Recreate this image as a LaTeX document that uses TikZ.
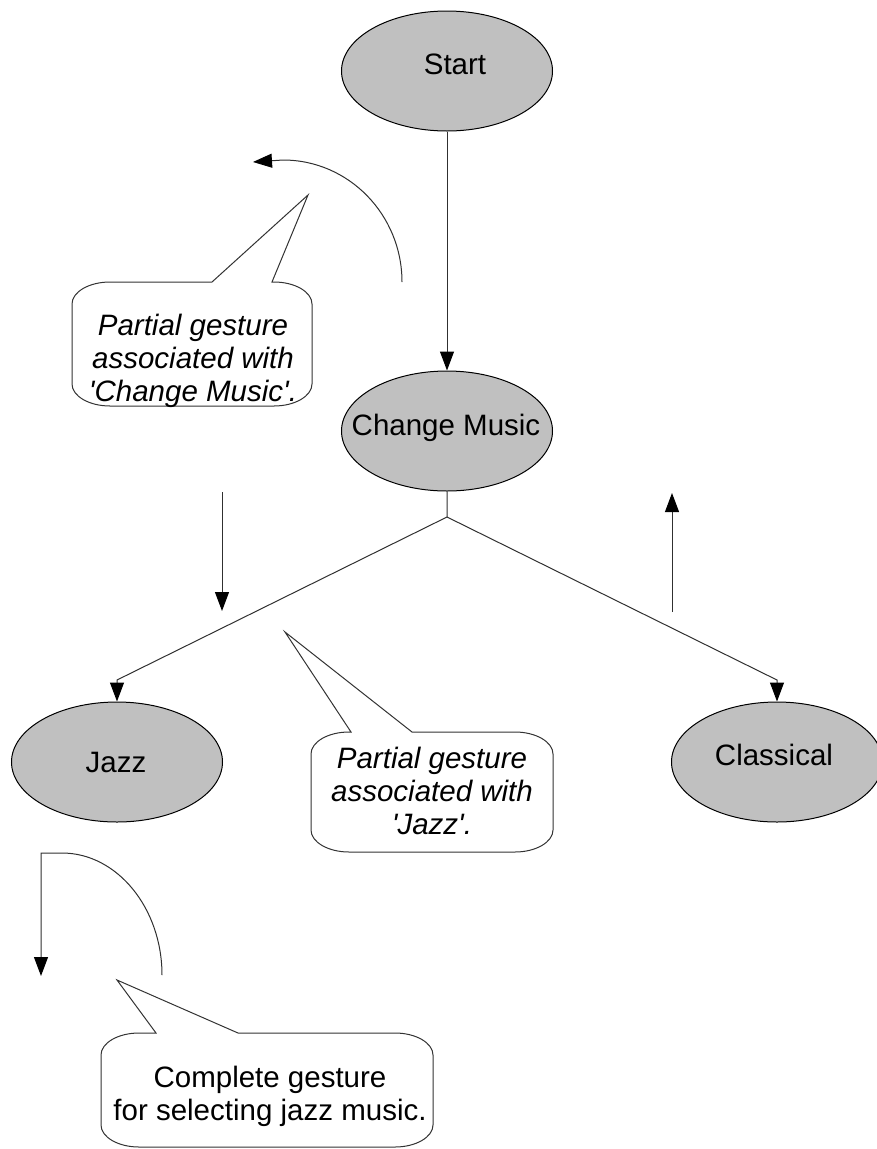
\documentclass[tikz,border=0pt]{standalone}
\usepackage{fontspec}
\setmainfont{Liberation Sans}
\usetikzlibrary{shapes.geometric,arrows.meta}
\definecolor{nodegray}{HTML}{C0C0C0}
\definecolor{linegray}{HTML}{303030}
\newcommand\mycallout[8]{%
  \draw[calloutline] ({#1},{#2+22}) .. controls ({#1},{#2+10}) and ({#1+17},{#2}) .. ({#1+38},{#2})
    -- ({#5},{#2}) -- ({#7},{#8}) -- ({#6},{#2}) -- ({#3-38},{#2})
    .. controls ({#3-17},{#2}) and ({#3},{#2+10}) .. ({#3},{#2+22})
    -- ({#3},{#4-22}) .. controls ({#3},{#4-10}) and ({#3-17},{#4}) .. ({#3-38},{#4})
    -- ({#1+38},{#4}) .. controls ({#1+17},{#4}) and ({#1},{#4-10}) .. ({#1},{#4-22}) -- cycle;}
\begin{document}
\begin{tikzpicture}[x=1pt,y=-1pt,
  state/.style={ellipse,draw=black,line width=1pt,fill=nodegray,minimum width=211pt,minimum height=120pt,inner sep=0pt},
  lbl/.style={anchor=base,inner sep=0pt,font=\fontsize{29.5}{33}\selectfont},
  note/.style={anchor=base,inner sep=0pt,align=center,font=\fontsize{29.5}{33}\selectfont},
  inote/.style={note,font=\fontsize{29.5}{33}\selectfont\itshape},
  calloutline/.style={draw=black!80,line width=1pt,fill=white},
  conn/.style={draw=linegray,line width=1pt},
  arr/.style={conn,-{Triangle[length=19pt,width=14pt,color=black]}}]
\useasboundingbox (0,0) rectangle (876,1149);
% states
\node[state] (start) at (447,71) {};
\node[state] (change) at (447,431) {};
\node[state] (jazz) at (117,762) {};
\node[state] (classical) at (777,762) {};
\node[lbl] (startlbl) at (455,74) {Start};
\node[lbl] (changelbl) at (446,435) {Change Music};
\node[lbl] (jazzlbl) at (116,772) {Jazz};
\node[lbl] (classicallbl) at (774,765) {Classical};
% edges
\coordinate (split) at (447,517);
\coordinate (jbend) at (117,680);
\coordinate (cbend) at (777,680);
\draw[arr] (start) -- (change);
\draw[arr] (change) -- (split) -- (jbend) -- (jazz);
\draw[arr] (split) -- (cbend) -- (classical);
% gesture arrows
\coordinate (g1a) at (402,282);
\coordinate (g1b) at (283,160);
\coordinate (g1c) at (253,162);
\draw[arr] (g1a) .. controls (402,215) and (349,160) .. (g1b) -- (g1c);
\coordinate (g2a) at (222,492);
\coordinate (g2b) at (222,611);
\draw[arr] (g2a) -- (g2b);
\coordinate (g3a) at (672,612);
\coordinate (g3b) at (672,493);
\draw[arr] (g3a) -- (g3b);
\coordinate (g4a) at (162,975);
\coordinate (g4b) at (62,853);
\coordinate (g4c) at (41,853);
\coordinate (g4d) at (41,976);
\draw[arr] (g4a) .. controls (162,908) and (117,853) .. (g4b) -- (g4c) -- (g4d);
% callouts
\mycallout{72}{282}{312}{406}{212}{272}{308}{195}
\mycallout{311}{732}{553}{852}{351}{412}{285}{632}
\mycallout{101}{1033}{433}{1147}{156}{238}{117}{980}
\node[inote] (note1) at (193,401) {Partial gesture\\associated with\\\textquotesingle Change Music\textquotesingle.};
\node[inote] (note2) at (432,834) {Partial gesture\\associated with\\\textquotesingle Jazz\textquotesingle.};
\node[note] (note3) at (270,1120) {Complete gesture\\for selecting jazz music.};
\end{tikzpicture}
\end{document}
